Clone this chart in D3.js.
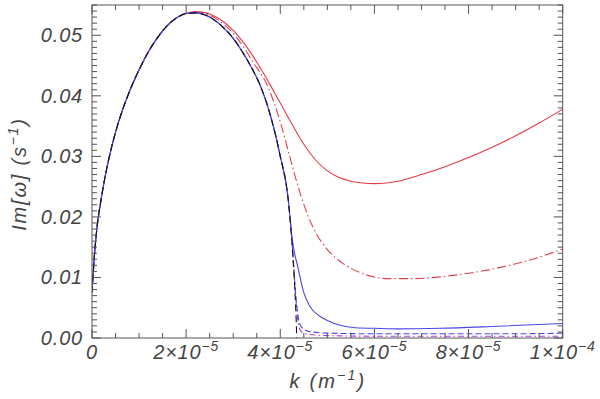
<!DOCTYPE html>
<html><head><meta charset="utf-8">
<script src="https://cdn.jsdelivr.net/npm/d3@7"></script>
<style>
body{margin:0;background:#fff;}
text{font-family:"Liberation Sans",Arimo,sans-serif;font-style:italic;fill:#444;letter-spacing:0.8px;}
</style></head>
<body><svg id="c" width="600" height="399"></svg>
<script>
// Shared rising branch (k in m^-1, Im[w] in s^-1)
const riseK = [0, 5e-7, 1e-6, 2e-6, 3e-6, 4e-6, 5e-6, 6.5e-6, 8e-6, 1e-5, 1.2e-5, 1.4e-5, 1.6e-5, 1.8e-5, 2e-5];
const riseV = [0.0075, 0.0135, 0.0178, 0.0232, 0.0275, 0.0310, 0.0340, 0.0377, 0.0408, 0.0443, 0.0473, 0.0497, 0.0516, 0.0529, 0.0536];

const redSolidK = [2.2e-5, 2.5e-5, 2.8e-5, 3.0e-5, 3.2e-5, 3.4e-5, 3.6e-5, 3.8e-5, 4.0e-5, 4.25e-5, 4.5e-5, 4.75e-5, 5.0e-5, 5.25e-5, 5.5e-5, 5.75e-5, 6.0e-5, 6.25e-5, 6.5e-5, 7.0e-5, 7.5e-5, 8.0e-5, 8.5e-5, 9.0e-5, 9.5e-5, 1e-4];
const redSolidV = [0.0539, 0.0535, 0.0522, 0.0508, 0.0490, 0.0468, 0.0443, 0.0416, 0.0388, 0.0353, 0.0320, 0.0294, 0.0276, 0.0265, 0.0259, 0.0256, 0.0255, 0.0256, 0.0259, 0.0270, 0.0283, 0.0298, 0.0315, 0.0334, 0.0355, 0.0378];

const redDashK = [2.2e-5, 2.5e-5, 2.8e-5, 3.0e-5, 3.2e-5, 3.4e-5, 3.72e-5, 4.0e-5, 4.2e-5, 4.45e-5, 4.7e-5, 5.0e-5, 5.3e-5, 5.7e-5, 6.3e-5, 6.8e-5, 7.4e-5, 8.0e-5, 8.7e-5, 9.4e-5, 1e-4];
const redDashV = [0.0538, 0.0533, 0.0518, 0.0503, 0.0483, 0.0458, 0.0418, 0.0357, 0.0300, 0.0232, 0.0182, 0.0146, 0.0125, 0.0108, 0.0098, 0.0098, 0.0101, 0.0107, 0.0117, 0.0131, 0.0147];

// Shared falling branch of the blue group
const fallK = [2.2e-5, 2.5e-5, 2.8e-5, 3.0e-5, 3.2e-5, 3.4e-5, 3.57e-5, 3.8e-5, 4.0e-5, 4.17e-5];
const fallV = [0.0537, 0.0530, 0.0512, 0.0495, 0.0472, 0.0445, 0.0418, 0.0365, 0.0300, 0.0228];

const blueSolidK = [4.25e-5, 4.38e-5, 4.5e-5, 4.63e-5, 4.84e-5, 5.0e-5, 5.27e-5, 5.6e-5, 6.0e-5, 6.5e-5, 7.4e-5, 8.5e-5, 1e-4];
const blueSolidV = [0.0165, 0.0115, 0.0075, 0.0052, 0.0036, 0.0029, 0.0021, 0.0017, 0.0016, 0.0015, 0.0016, 0.0019, 0.0024];

const blueDashK = [4.25e-5, 4.32e-5, 4.38e-5, 4.45e-5, 4.6e-5, 5.0e-5, 6.0e-5, 7.0e-5, 8.0e-5, 9.0e-5, 1e-4];
const blueDashV = [0.0160, 0.0080, 0.0035, 0.0018, 0.0011, 0.0008, 0.0007, 0.0007, 0.0007, 0.0007, 0.0008];

const magentaK = [4.25e-5, 4.32e-5, 4.38e-5, 4.45e-5, 4.6e-5, 5.0e-5, 6.0e-5, 7.0e-5, 8.0e-5, 9.0e-5, 1e-4];
const magentaV = [0.0158, 0.0075, 0.0025, 0.0010, 0.0006, 0.0004, 0.0003, 0.0003, 0.0003, 0.0003, 0.0003];

const blackK = [4.25e-5, 4.31e-5, 4.34e-5, 4.35e-5];
const blackV = [0.0155, 0.0080, 0.0025, 0.0];

const xTicks = [0, 2e-5, 4e-5, 6e-5, 8e-5, 1e-4];
const xTickMant = ["0", "2", "4", "6", "8", "1"];
const xTickExp = ["", "−5", "−5", "−5", "−5", "−4"];
const yTicks = [0, 0.01, 0.02, 0.03, 0.04, 0.05];
const yTickLabels = ["0.00", "0.01", "0.02", "0.03", "0.04", "0.05"];

const L = 92, R = 562.7, T = 5, B = 338;
const svg = d3.select("#c");
const x = d3.scaleLinear().domain([0, 1e-4]).range([L, R]);
const y = d3.scaleLinear().domain([0, 0.055]).range([B, T]);

svg.append("clipPath").attr("id", "clip").append("rect")
  .attr("x", L).attr("y", T).attr("width", R - L).attr("height", B - T);

function zip(ks, vs) { return ks.map((k, i) => [k, vs[i]]); }
const rise = zip(riseK, riseV);
const fall = zip(fallK, fallV);
const series = [
  {d: rise.concat(zip(redSolidK, redSolidV)), c: "#e23a46", dash: null},
  {d: rise.concat(zip(redDashK, redDashV)), c: "#e0404c", dash: "9,3,1.5,3"},
  {d: rise.concat(fall, zip(magentaK, magentaV)), c: "#b040e0", dash: "6,3,1.5,3"},
  {d: rise.concat(fall, zip(blueDashK, blueDashV)), c: "#5046e0", dash: "6,3"},
  {d: rise.concat(fall, zip(blueSolidK, blueSolidV)), c: "#4a46e6", dash: null},
  {d: rise.concat(fall, zip(blackK, blackV)), c: "#111", dash: "7,4"}
];
const line = d3.line().x(p => x(p[0])).y(p => y(p[1])).curve(d3.curveMonotoneX);
const g = svg.append("g").attr("clip-path", "url(#clip)");
series.forEach(s => {
  g.append("path").attr("d", line(s.d)).attr("fill", "none")
    .attr("stroke", s.c).attr("stroke-width", 1.1)
    .attr("stroke-dasharray", s.dash);
});

// Axes with inward ticks
const axCol = "#555";
function steps(step, n) { const a = []; for (let i = 0; i <= n; i++) a.push(i * step); return a; }
const xMinor = steps(5e-6, 20);
const yMinor = steps(0.001, 55);
const ax = svg.append("g").attr("stroke", axCol).attr("stroke-width", 1);
xMinor.forEach((v, i) => {
  const len = (i % 4 === 0) ? 9 : 5;
  ax.append("line").attr("x1", x(v)).attr("x2", x(v)).attr("y1", B).attr("y2", B - len);
  ax.append("line").attr("x1", x(v)).attr("x2", x(v)).attr("y1", T).attr("y2", T + len);
});
yMinor.forEach((v, i) => {
  const len = (i % 10 === 0) ? 9 : 5;
  ax.append("line").attr("y1", y(v)).attr("y2", y(v)).attr("x1", L).attr("x2", L + len);
  ax.append("line").attr("y1", y(v)).attr("y2", y(v)).attr("x1", R).attr("x2", R - len);
});
ax.append("rect").attr("x", L).attr("y", T).attr("width", R - L).attr("height", B - T).attr("fill", "none");

// Tick labels
yTicks.forEach((v, i) => {
  svg.append("text").attr("x", 83).attr("y", y(v) + 7).attr("text-anchor", "end")
    .attr("font-size", 20).text(yTickLabels[i]);
});
xTicks.forEach((v, i) => {
  const t = svg.append("text").attr("x", x(v)).attr("y", 359).attr("text-anchor", "middle").attr("font-size", 20);
  if (i === 0) { t.text(xTickMant[i]); return; }
  t.append("tspan").text(xTickMant[i] + "×10");
  t.append("tspan").attr("dy", -8).attr("font-size", 14).text(xTickExp[i]);
});

// Axis titles
const xt = svg.append("text").attr("x", 328).attr("y", 388).attr("text-anchor", "middle")
  .attr("font-size", 20).style("letter-spacing", "2.2px");
xt.append("tspan").text("k (m");
xt.append("tspan").attr("dy", -8).attr("font-size", 14).text("−1");
xt.append("tspan").attr("dy", 8).text(")");

const yt = svg.append("text").attr("transform", "translate(26,174) rotate(-90)").attr("text-anchor", "middle")
  .attr("font-size", 20).style("letter-spacing", "1.8px");
yt.append("tspan").text("Im[ω] (s");
yt.append("tspan").attr("dy", -8).attr("font-size", 14).text("−1");
yt.append("tspan").attr("dy", 8).text(")");
</script></body></html>
